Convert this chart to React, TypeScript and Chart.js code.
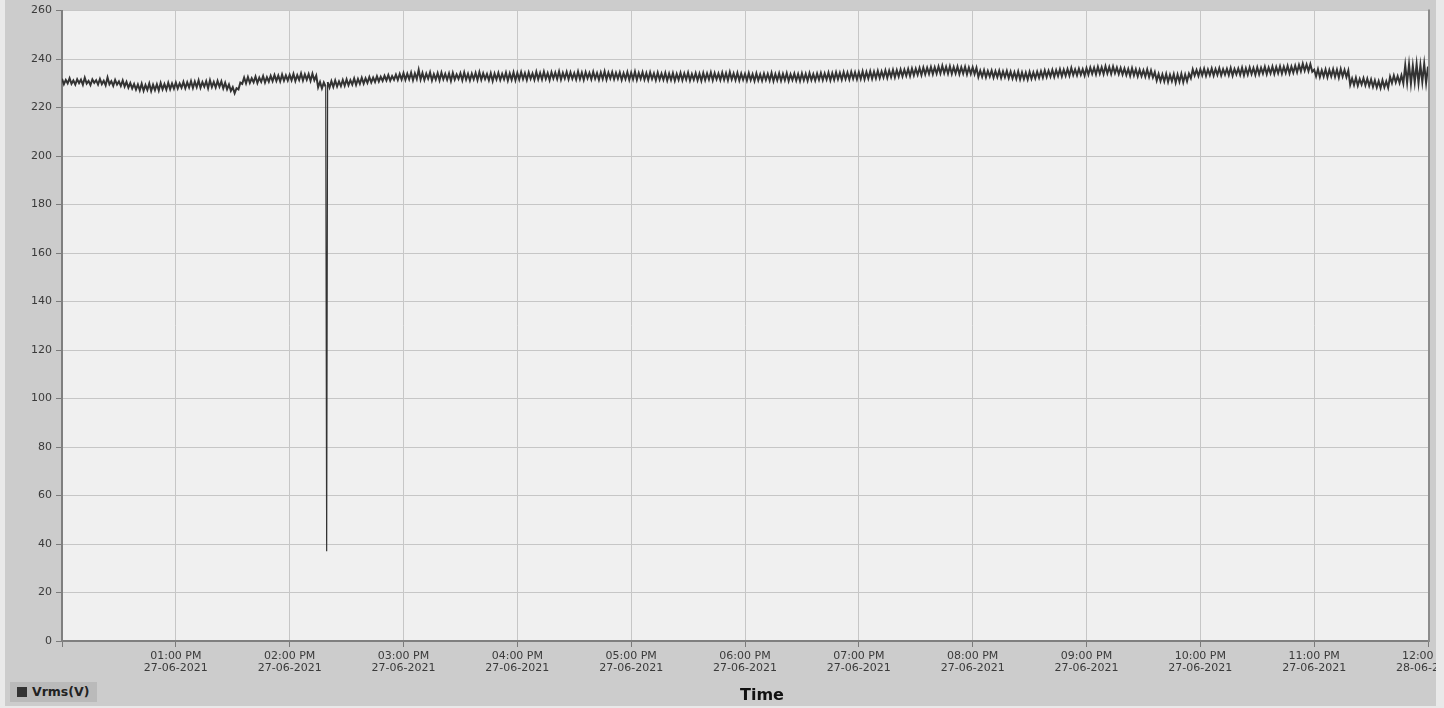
import React, { useEffect, useRef } from "react";
import { Chart, registerables } from "chart.js";

Chart.register(...registerables);

// Vrms(V) readings, one per minute, 12:00 PM 27-06-2021 .. 12:00 AM 28-06-2021
const hour12 = [
  231.9, 229.6, 231.4, 230.0, 232.1, 229.8, 231.2, 229.5, 231.7, 230.1,
  231.5, 229.4, 232.3, 229.9, 231.0, 229.3, 231.6, 230.2, 231.3, 229.5,
  231.8, 229.7, 231.1, 229.2, 232.4, 229.6, 230.9, 229.0, 231.4, 229.5,
  230.8, 228.9, 231.2, 228.7, 230.6, 228.2, 230.1, 227.9, 229.7, 227.4,
  229.5, 227.1, 229.8, 226.9, 229.3, 227.3, 229.9, 226.8, 229.4, 227.2,
  229.6, 227.0, 230.1, 227.5, 229.7, 227.4, 230.2, 227.6, 229.9, 227.8,
];
const hour13 = [
  230.3, 227.9, 230.0, 228.2, 230.6, 228.0, 230.4, 228.3, 230.9, 228.1,
  230.7, 228.4, 231.2, 228.2, 230.5, 228.6, 230.9, 228.0, 231.3, 228.5,
  230.6, 228.3, 231.0, 228.6, 230.8, 227.9, 230.2, 227.6, 229.5, 226.9,
  228.4, 225.9, 228.0, 227.5, 230.3, 229.8, 232.4, 230.0, 232.6, 230.2,
  232.1, 230.4, 232.8, 230.1, 232.3, 230.6, 233.0, 230.3, 232.5, 230.7,
  233.1, 230.9, 233.4, 231.0, 233.2, 230.8, 233.6, 231.1, 233.3, 231.2,
];
const hour14 = [
  233.5, 231.3, 233.9, 231.0, 233.4, 231.4, 234.1, 231.2, 233.7, 231.5,
  233.8, 231.1, 234.0, 231.3, 233.2, 228.4, 230.6, 227.9, 230.3, 228.6,
  230.5, 228.3, 230.9, 228.5, 231.2, 228.7, 230.8, 228.9, 231.4, 229.0,
  231.6, 229.2, 231.3, 229.5, 232.0, 229.4, 231.8, 229.8, 232.3, 229.9,
  232.1, 230.2, 232.6, 230.4, 232.4, 230.6, 232.9, 230.8, 232.7, 231.0,
  233.1, 231.2, 233.4, 231.1, 233.0, 231.5, 233.6, 231.4, 233.9, 231.6,
];
const hour15 = [
  234.2, 231.5, 234.0, 231.7, 234.4, 231.3, 234.1, 231.8, 235.6, 231.6,
  234.3, 231.4, 234.0, 231.9, 234.5, 231.2, 233.8, 231.6, 234.2, 231.3,
  234.4, 231.7, 233.9, 231.5, 234.1, 231.0, 234.3, 231.6, 233.7, 231.8,
  234.2, 231.3, 234.5, 231.6, 233.9, 231.2, 234.0, 231.7, 234.3, 231.4,
  234.6, 231.5, 234.1, 231.8, 233.8, 231.3, 234.2, 231.0, 234.0, 231.6,
  234.3, 231.4, 233.9, 231.7, 234.4, 231.2, 234.1, 231.5, 234.5, 231.3,
];
const hour16 = [
  234.3, 231.6, 234.6, 231.8, 234.2, 231.4, 234.5, 231.9, 234.1, 231.5,
  234.7, 231.7, 234.3, 231.6, 234.8, 231.9, 234.2, 231.4, 234.6, 232.0,
  234.4, 231.8, 234.9, 231.6, 234.3, 232.0, 234.7, 231.7, 234.5, 231.9,
  234.2, 231.6, 234.8, 231.8, 234.4, 231.5, 234.6, 232.1, 234.3, 231.7,
  234.7, 231.9, 234.2, 231.5, 234.5, 231.8, 234.9, 231.6, 234.4, 232.0,
  234.6, 231.7, 234.3, 231.9, 234.5, 231.4, 234.2, 231.8, 234.6, 231.5,
];
const hour17 = [
  234.4, 231.7, 234.8, 231.5, 234.3, 231.9, 234.6, 231.6, 234.2, 231.4,
  234.5, 231.8, 234.1, 231.3, 234.4, 231.6, 234.0, 231.5, 234.3, 231.2,
  234.0, 231.4, 234.2, 231.1, 233.9, 231.5, 234.3, 231.3, 234.1, 231.6,
  234.4, 231.2, 233.8, 231.5, 234.2, 231.3, 234.0, 231.1, 234.3, 231.4,
  234.1, 231.6, 234.5, 231.3, 234.2, 231.7, 234.0, 231.4, 234.4, 231.5,
  234.2, 231.3, 234.6, 231.6, 234.1, 231.4, 234.3, 231.2, 234.0, 231.5,
];
const hour18 = [
  233.9, 231.2, 234.2, 231.4, 233.8, 231.0, 234.1, 231.3, 233.7, 231.1,
  234.0, 231.4, 233.9, 231.2, 234.3, 231.0, 233.8, 231.3, 234.1, 231.1,
  233.9, 231.3, 234.2, 231.0, 233.7, 231.4, 234.0, 231.2, 233.8, 231.0,
  234.1, 231.3, 233.9, 231.1, 234.2, 231.4, 233.8, 231.2, 234.0, 231.5,
  234.3, 231.4, 234.1, 231.6, 234.4, 231.3, 234.2, 231.5, 234.5, 231.7,
  234.3, 231.5, 234.6, 231.8, 234.4, 231.6, 234.7, 231.9, 234.5, 231.7,
];
const hour19 = [
  234.6, 231.8, 234.9, 231.7, 234.7, 232.0, 235.0, 231.9, 234.8, 232.1,
  235.1, 232.2, 234.9, 232.4, 235.3, 232.3, 235.2, 232.6, 235.5, 232.5,
  235.4, 232.8, 235.7, 232.9, 235.6, 233.1, 235.9, 233.0, 236.1, 233.3,
  236.0, 233.5, 236.3, 233.4, 236.5, 233.7, 236.4, 233.9, 236.7, 233.8,
  236.6, 234.0, 236.9, 234.1, 237.2, 234.2, 236.8, 234.0, 237.0, 233.9,
  236.7, 234.1, 236.9, 233.8, 236.6, 234.0, 236.8, 233.7, 236.5, 233.9,
];
const hour20 = [
  236.6, 233.8, 236.4, 232.6, 235.2, 232.7, 235.4, 232.5, 235.1, 232.8,
  235.3, 232.4, 235.0, 232.6, 235.2, 232.3, 234.9, 232.5, 235.1, 232.2,
  234.8, 232.0, 234.6, 231.9, 234.9, 231.7, 234.5, 231.8, 234.4, 231.6,
  234.7, 231.9, 234.5, 232.1, 234.8, 232.3, 235.0, 232.4, 235.3, 232.6,
  235.2, 232.8, 235.5, 232.7, 235.4, 233.0, 235.8, 232.9, 235.6, 233.1,
  235.9, 233.2, 236.3, 233.4, 235.7, 233.3, 236.0, 233.5, 235.8, 233.2,
];
const hour21 = [
  236.2, 233.6, 236.5, 233.9, 236.4, 233.7, 236.8, 234.0, 236.6, 233.8,
  237.0, 234.1, 236.7, 233.9, 236.9, 234.2, 236.5, 233.8, 236.3, 233.6,
  236.1, 233.4, 235.9, 233.1, 236.2, 233.3, 235.8, 232.9, 235.6, 233.0,
  235.4, 232.8, 235.7, 232.6, 235.3, 232.4, 234.6, 231.2, 233.9, 231.0,
  233.7, 230.8, 233.9, 230.6, 233.5, 230.9, 233.8, 230.3, 233.6, 230.7,
  233.9, 230.5, 233.6, 230.9, 234.0, 232.1, 235.7, 233.2, 235.5, 233.0,
];
const hour22 = [
  235.8, 233.3, 236.0, 233.1, 235.7, 233.4, 236.1, 233.2, 235.9, 233.5,
  236.2, 233.3, 235.8, 233.6, 236.0, 233.4, 236.3, 233.2, 235.9, 233.7,
  236.1, 233.5, 236.4, 233.3, 236.2, 233.6, 236.5, 233.8, 236.3, 233.5,
  236.6, 233.7, 236.4, 234.0, 236.8, 233.8, 236.5, 234.1, 236.9, 233.9,
  236.7, 234.2, 237.0, 234.0, 236.8, 234.3, 237.2, 234.1, 236.9, 234.4,
  237.3, 234.6, 237.6, 235.0, 238.1, 235.2, 237.8, 235.1, 237.9, 234.8,
];
const hour23 = [
  235.6, 232.9, 235.8, 232.6, 235.4, 232.8, 235.7, 232.5, 235.5, 232.9,
  235.8, 232.7, 235.6, 232.4, 235.9, 232.8, 235.5, 232.6, 235.3, 229.4,
  232.0, 229.3, 232.3, 229.1, 231.8, 229.5, 232.1, 229.2, 231.9, 229.0,
  231.6, 228.6, 231.2, 228.3, 230.9, 228.1, 231.3, 228.4, 230.8, 228.2,
  232.7, 230.1, 233.2, 230.4, 232.9, 230.2, 233.3, 230.0, 237.4, 230.3,
  237.8, 229.9, 237.2, 230.4, 237.9, 230.1, 237.5, 230.6, 238.0, 230.2,
  236.9,
];

// momentary dip (sag) reading at ~02:19 PM
const sagMinute = 139.5;
const sagValue = 37;

const tickTimes = [
  "12:00 PM", "01:00 PM", "02:00 PM", "03:00 PM", "04:00 PM", "05:00 PM", "06:00 PM",
  "07:00 PM", "08:00 PM", "09:00 PM", "10:00 PM", "11:00 PM", "12:00 AM",
];
const tickDates = [
  "27-06-2021", "27-06-2021", "27-06-2021", "27-06-2021", "27-06-2021", "27-06-2021", "27-06-2021",
  "27-06-2021", "27-06-2021", "27-06-2021", "27-06-2021", "27-06-2021", "28-06-2021",
];
const seriesName = "Vrms(V)";
const axisTitle = "Time";

const voltage = [
  ...hour12, ...hour13, ...hour14, ...hour15, ...hour16, ...hour17,
  ...hour18, ...hour19, ...hour20, ...hour21, ...hour22, ...hour23,
];

const FONT = "'DejaVu Sans', sans-serif";

const plotFrame = {
  id: "plotFrame",
  beforeDraw(chart: any) {
    const { ctx, chartArea } = chart;
    const { left, top, right, bottom } = chartArea;
    ctx.save();
    ctx.fillStyle = "#f0f0f0";
    ctx.fillRect(left, top, right - left, bottom - top);
    ctx.restore();
  },
  afterDraw(chart: any) {
    const { ctx, chartArea } = chart;
    const { top, right, bottom } = chartArea;
    ctx.save();
    ctx.strokeStyle = "#8c8c8c";
    ctx.lineWidth = 2;
    ctx.beginPath();
    ctx.moveTo(right + 1, top - 1);
    ctx.lineTo(right + 1, bottom + 1);
    ctx.stroke();
    ctx.restore();
  },
};

function VrmsChart() {
  const ref = useRef<HTMLCanvasElement | null>(null);
  useEffect(() => {
    if (!ref.current) return;
    const points: { x: number; y: number }[] = [];
    voltage.forEach((v, i) => {
      points.push({ x: i, y: v });
      if (i < sagMinute && i + 1 > sagMinute) points.push({ x: sagMinute, y: sagValue });
    });
    const chart = new Chart(ref.current, {
      type: "line",
      data: {
        datasets: [
          {
            label: seriesName,
            data: points,
            borderColor: "#333333",
            borderWidth: 2,
            pointRadius: 0,
            tension: 0,
            fill: false,
            segment: {
              borderWidth: (c: any) =>
                c.p0.parsed.y < 200 || c.p1.parsed.y < 200 ? 1.2 : 2,
            },
          },
        ],
      },
      options: {
        animation: false,
        responsive: false,
        events: [],
        layout: { padding: { left: 0, right: 37, top: 8, bottom: 0 } },
        plugins: { legend: { display: false }, tooltip: { enabled: false } },
        scales: {
          x: {
            type: "linear",
            min: 0,
            max: 720,
            afterFit: (s: any) => {
              s.height = 65;
            },
            grid: { color: "#c6c6c6", lineWidth: 1, tickColor: "#7a7a7a", tickLength: 6 },
            border: { color: "#7f7f7f", width: 2 },
            ticks: {
              stepSize: 60,
              autoSkip: false,
              maxRotation: 0,
              padding: 3,
              color: "#3a3a3a",
              font: { family: FONT, size: 11, lineHeight: 1.1 },
              callback: (v: any) => {
                const i = Math.round(Number(v) / 60);
                return i === 0 ? "" : [tickTimes[i], tickDates[i]];
              },
            },
          },
          y: {
            min: 0,
            max: 260,
            afterFit: (s: any) => {
              s.width = 57;
            },
            grid: { color: "#c6c6c6", lineWidth: 1, tickColor: "#7a7a7a", tickLength: 6 },
            border: { color: "#7f7f7f", width: 2 },
            ticks: {
              stepSize: 20,
              padding: 4,
              color: "#3a3a3a",
              font: { family: FONT, size: 11 },
            },
          },
        },
      },
      plugins: [plotFrame],
    });
    return () => chart.destroy();
  }, []);
  return (
    <canvas
      ref={ref}
      width={1460}
      height={706}
      style={{ position: "absolute", left: 0, top: 0, width: 1460, height: 706 }}
    />
  );
}

export default function App() {
  return (
    <div
      style={{
        position: "absolute",
        left: 0,
        top: 0,
        width: 1444,
        height: 708,
        background: "#e9e9e9",
        overflow: "hidden",
      }}
    >
      <div
        style={{
          position: "absolute",
          left: 5,
          top: 0,
          width: 1431,
          height: 706,
          background: "#cccccc",
          overflow: "hidden",
        }}
      >
        <VrmsChart />
        <div
          style={{
            position: "absolute",
            left: 5,
            top: 682,
            width: 87,
            height: 20,
            background: "#bababa",
            fontFamily: FONT,
          }}
        >
          <div
            style={{
              position: "absolute",
              left: 7,
              top: 5,
              width: 10,
              height: 10,
              background: "#333333",
            }}
          />
          <div
            style={{
              position: "absolute",
              left: 22,
              top: 0,
              height: 20,
              lineHeight: "20px",
              fontSize: 12.5,
              fontWeight: "bold",
              color: "#222222",
              whiteSpace: "nowrap",
            }}
          >
            {seriesName}
          </div>
        </div>
        <div
          style={{
            position: "absolute",
            left: 757 - 60,
            width: 120,
            top: 687,
            lineHeight: "16px",
            textAlign: "center",
            fontFamily: FONT,
            fontSize: 16,
            fontWeight: "bold",
            color: "#111111",
          }}
        >
          {axisTitle}
        </div>
      </div>
    </div>
  );
}
